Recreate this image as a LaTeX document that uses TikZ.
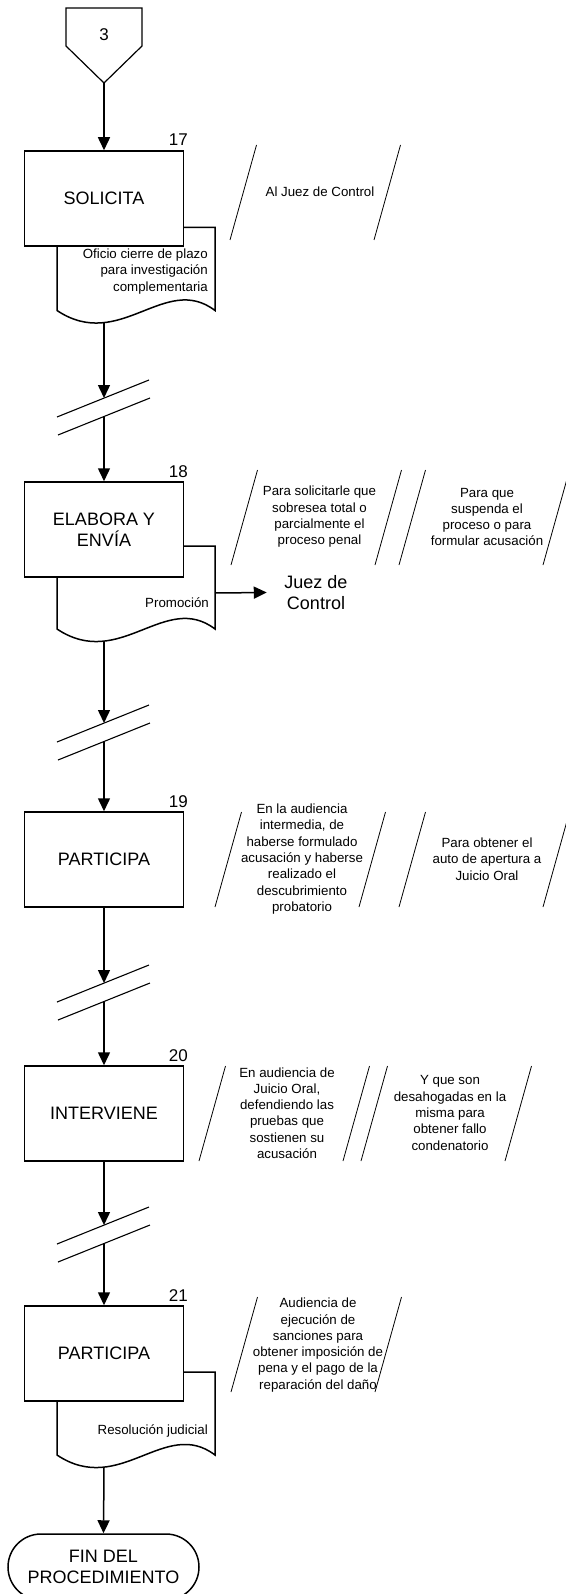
\documentclass[tikz,border=0pt]{standalone}
\usepackage{fontspec}
\setmainfont{Liberation Sans}
\usetikzlibrary{arrows.meta}
\newcommand\notefont{\fontsize{13.3}{16.3}\selectfont}
\newcommand\bigtextfont{\fontsize{18}{21}\selectfont}
\newcommand\numtextfont{\fontsize{17}{20}\selectfont}
\tikzset{
  procbox/.style={draw, fill=white, line width=1.5pt, minimum width=159pt, minimum height=95pt, inner sep=0pt, align=center, font=\bigtextfont},
  numlab/.style={anchor=base east, inner sep=0pt, font=\numtextfont},
  doctext/.style={anchor=east, inner sep=0pt, align=right, font=\notefont},
  note/.style={inner sep=0pt, align=center, font=\notefont},
  slashline/.style={line width=0.8pt},
  brkline/.style={line width=1.1pt},
  arr/.style={line width=1.5pt, -{Triangle[length=13pt,width=12pt]}},
  docline/.style={draw, fill=white, line width=1.5pt},
  termbox/.style={draw, fill=white, line width=1.5pt, rounded corners=33pt, minimum width=191pt, minimum height=66pt, align=center, font=\bigtextfont, inner sep=0pt},
}
% document shape: #1 top y, #2 name
\newcommand\docshape[2]{%
  \pgfmathsetmacro\dcTop{#1}%
  \pgfmathsetmacro\dcEnd{#1+83}%
  \pgfmathsetmacro\dcA{#1+83+42}%
  \pgfmathsetmacro\dcB{#1+83-38}%
  \draw[docline] (57,\dcTop) -- (215,\dcTop) -- (215,\dcEnd)
     .. controls (165,\dcB) and (120,\dcA) .. (57,\dcEnd) -- cycle;
  \coordinate (#2-bot) at (104,\dcTop+95);
}
% break symbol: #1 y where connector meets first line, #2 name
\newcommand\breaksym[2]{%
  \draw[brkline] (57,#1+19) -- (149,#1-18);
  \draw[brkline] (58,#1+37) -- (150,#1);
  \coordinate (#2-in) at (104,#1);
  \coordinate (#2-out) at (104,#1+18);
}
% annotation parallelogram: #1 left bottom x, #2 bottom y
\newcommand\annot[2]{%
  \draw[slashline] (#1,#2) -- ++(26.5,-95);
  \draw[slashline] (#1+144,#2) -- ++(26.5,-95);
}
\begin{document}
\begin{tikzpicture}[x=1pt,y=-1pt]
\useasboundingbox[fill=white] (0,0) rectangle (565,1594);

% off-page connector
\draw[line width=1.2pt] (66,8) -- (142,8) -- (142,46) -- (104,83) -- (66,46) -- cycle;
\node[font=\numtextfont, inner sep=0pt] (c3) at (104,35) {3};
\coordinate (c3tip) at (104,83);

% documents (behind boxes)
\docshape{227.5}{d17}
\docshape{546}{d18}
\docshape{1372}{d21}
\coordinate (d18-out) at (215,593);

% process boxes
\node[procbox] (b17) at (104,198.5) {SOLICITA};
\node[procbox] (b18) at (104,529.5) {ELABORA Y\\ENVÍA};
\node[procbox] (b19) at (104,859.5) {PARTICIPA};
\node[procbox] (b20) at (104,1113.5) {INTERVIENE};
\node[procbox] (b21) at (104,1353.5) {PARTICIPA};

% step numbers
\node[numlab] (n17) at (188,146) {17};
\node[numlab] (n18) at (188,477.5) {18};
\node[numlab] (n19) at (188,807) {19};
\node[numlab] (n20) at (188,1061.5) {20};
\node[numlab] (n21) at (188,1301) {21};

% document texts
\node[doctext] (t17) at (208,271.5) {Oficio cierre de plazo\\para investigación\\complementaria};
\node[doctext] (t18) at (209,603) {Promoción};
\node[doctext] (t21) at (208,1431) {Resolución judicial};

% receiver
\node[font=\bigtextfont, align=center, inner ysep=0pt, inner xsep=17.5pt] (jc) at (316,592.5) {Juez de\\Control};

% breaks
\breaksym{398}{br1}
\breaksym{723}{br2}
\breaksym{983}{br3}
\breaksym{1225}{br4}

% terminal
\node[termbox] (fin) at (103.5,1567) {FIN DEL\\PROCEDIMIENTO};

% connectors
\draw[arr] (c3tip) -- (b17.north);
\draw[arr] (d17-bot) -- (br1-in);
\draw[arr] (br1-out) -- (b18.north);
\draw[arr] (d18-bot) -- (br2-in);
\draw[arr] (br2-out) -- (b19.north);
\draw[arr] (b19.south) -- (br3-in);
\draw[arr] (br3-out) -- (b20.north);
\draw[arr] (b20.south) -- (br4-in);
\draw[arr] (br4-out) -- (b21.north);
\draw[arr] (d21-bot) -- (fin.north);
\draw[arr] (d18-out) -- (jc.west);

% annotations
\annot{230}{240}
\node[note] (a17) at (320,192) {Al Juez de Control};

\annot{231}{565}
\annot{399}{565}
\node[note] (a18a) at (319.5,517) {Para solicitarle que\\sobresea total o\\parcialmente el\\proceso penal};
\node[note] (a18b) at (487,517) {Para que\\suspenda el\\proceso o para\\formular acusación};

\annot{215}{907}
\annot{399}{907}
\node[note] (a19a) at (302,859) {En la audiencia\\intermedia, de\\haberse formulado\\acusación y haberse\\realizado el\\descubrimiento\\probatorio};
\node[note] (a19b) at (487,859) {Para obtener el\\auto de apertura a\\Juicio Oral};

\annot{199}{1161}
\annot{361}{1161}
\node[note] (a20a) at (287,1113) {En audiencia de\\Juicio Oral,\\defendiendo las\\pruebas que\\sostienen su\\acusación};
\node[note] (a20b) at (450,1113) {Y que son\\desahogadas en la\\misma para\\obtener fallo\\condenatorio};

\annot{231}{1392}
\node[note] (a21) at (318,1345) {Audiencia de\\ejecución de\\sanciones para\\obtener imposición de\\pena y el pago de la\\reparación del daño};
\end{tikzpicture}
\end{document}
